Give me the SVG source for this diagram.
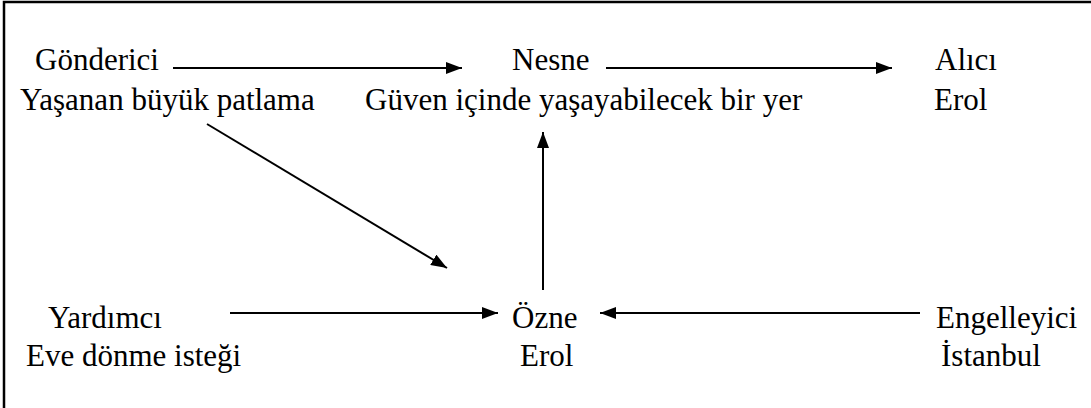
<svg xmlns="http://www.w3.org/2000/svg" width="1091" height="408" viewBox="0 0 1091 408">
<style>
text{font-family:'Liberation Serif','Times New Roman',Times,'DejaVu Serif',serif;font-size:31px;fill:#000}
.c{stroke:#000;stroke-width:2;fill:none}
</style>
<defs>
<marker id="ah" markerWidth="16" markerHeight="12" refX="16" refY="6" orient="auto" markerUnits="userSpaceOnUse">
<path d="M0,0 L16,6 L0,12 Z" fill="#000"/>
</marker>
</defs>
<rect x="4" y="2" width="1100" height="420" fill="#fff" stroke="#000" stroke-width="2.5"/>
<g id="connectors">
<line class="c" x1="173" y1="68" x2="462" y2="68" marker-end="url(#ah)"/>
<line class="c" x1="606" y1="68" x2="892" y2="68" marker-end="url(#ah)"/>
<line class="c" x1="207" y1="124" x2="447" y2="268" marker-end="url(#ah)"/>
<line class="c" x1="543" y1="290" x2="543" y2="132" marker-end="url(#ah)"/>
<line class="c" x1="230" y1="313" x2="498" y2="313" marker-end="url(#ah)"/>
<line class="c" x1="920" y1="313" x2="600" y2="313" marker-end="url(#ah)"/>
</g>
<g id="gonderici"><text font-family="Liberation Serif, serif" x="35" y="70">Gönderici</text><text font-family="Liberation Serif, serif" x="20" y="110">Yaşanan büyük patlama</text></g>
<g id="nesne"><text font-family="Liberation Serif, serif" x="512" y="70">Nesne</text><text font-family="Liberation Serif, serif" x="365" y="110">Güven içinde yaşayabilecek bir yer</text></g>
<g id="alici"><text font-family="Liberation Serif, serif" x="935" y="70">Alıcı</text><text font-family="Liberation Serif, serif" x="934" y="110">Erol</text></g>
<g id="yardimci"><text font-family="Liberation Serif, serif" x="48" y="328">Yardımcı</text><text font-family="Liberation Serif, serif" x="26" y="366">Eve dönme isteği</text></g>
<g id="ozne"><text font-family="Liberation Serif, serif" x="512" y="328">Özne</text><text font-family="Liberation Serif, serif" x="520" y="366">Erol</text></g>
<g id="engelleyici"><text font-family="Liberation Serif, serif" x="936" y="328">Engelleyici</text><text font-family="Liberation Serif, serif" x="941" y="366">İstanbul</text></g>
</svg>
